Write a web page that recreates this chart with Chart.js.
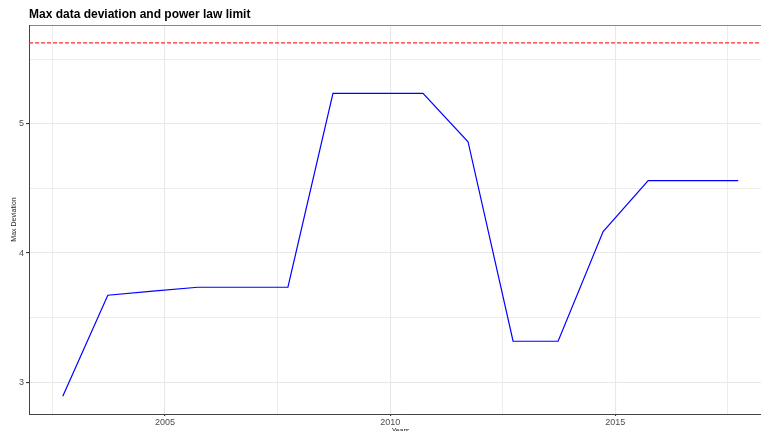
<!DOCTYPE html>
<html>
<head>
<meta charset="utf-8">
<script src="https://cdn.jsdelivr.net/npm/chart.js@4/dist/chart.umd.min.js"></script>
<style>
  html, body { margin: 0; padding: 0; background: #fff; overflow: hidden; }
  #wrap { width: 780px; height: 440px; }
</style>
</head>
<body>
<div id="wrap"><canvas id="devchart" width="780" height="440"></canvas></div>
<script>
// data
const years = [2002.73, 2003.73, 2004.73, 2005.73, 2006.73, 2007.73, 2008.73, 2009.73,
               2010.73, 2011.73, 2012.73, 2013.73, 2014.73, 2015.73, 2016.73, 2017.73];
const maxDeviation = [2.891, 3.673, 3.705, 3.735, 3.735, 3.735, 5.237, 5.237,
                      5.237, 4.862, 3.317, 3.317, 4.166, 4.561, 4.561, 4.561];
const powerLawLimit = 5.628;

const xTicks = [2002.5, 2005, 2007.5, 2010, 2012.5, 2015, 2017.5];
const yTicks = [3, 3.5, 4, 4.5, 5, 5.5];
const xMin = 2001.98, xMax = 2018.48;
const yMin = 2.7535, yMax = 5.766;

const lineData = years.map((y, i) => ({ x: y, y: maxDeviation[i] }));
const limitData = [{ x: xMin, y: powerLawLimit }, { x: xMax, y: powerLawLimit }];

const FONT = "'Liberation Sans', Arial, Helvetica, sans-serif";

function isMajor(v) { return Math.abs(v - Math.round(v)) < 1e-9 && (v < 100 || v % 5 === 0); }

const gridColor = ctx => '#E8E8E8';
const gridWidth = ctx => (ctx.tick && isMajor(ctx.tick.value)) ? 1.1 : 0.8;
const tickColor = ctx => (ctx.tick && isMajor(ctx.tick.value)) ? '#333333' : 'rgba(0,0,0,0)';

const config = {
    type: 'line',
    data: {
        datasets: [{
            label: 'Max Deviation',
            data: lineData,
            borderColor: '#0000FF',
            borderWidth: 1.2,
            pointRadius: 0,
            tension: 0,
            fill: false
        }, {
            label: 'Power law limit',
            data: limitData,
            borderColor: '#FF2A2A',
            borderWidth: 1.2,
            borderDash: [4, 2],
            pointRadius: 0,
            fill: false
        }]
    },
    options: {
        responsive: false,
        animation: false,
        layout: { padding: { left: 0, right: 8, top: 0, bottom: 0 } },
        plugins: {
            legend: { display: false },
            tooltip: { enabled: false },
            title: {
                display: true,
                text: 'Max data deviation and power law limit',
                align: 'start',
                fullSize: false,
                color: '#000',
                font: { family: FONT, size: 12, weight: 'bold', lineHeight: 1.2 },
                padding: { top: 7, bottom: 3.6 }
            }
        },
        scales: {
            x: {
                type: 'linear',
                min: xMin,
                max: xMax,
                afterBuildTicks: s => { s.ticks = xTicks.map(v => ({ value: v })); },
                afterFit: s => { s.height = 26; },
                ticks: {
                    autoSkip: false,
                    maxRotation: 0,
                    padding: 1,
                    color: '#4D4D4D',
                    font: { family: FONT, size: 9 },
                    callback: v => (v % 5 === 0 ? String(v) : '')
                },
                grid: { color: gridColor, lineWidth: gridWidth, tickColor: tickColor, tickLength: 2 },
                border: { display: true, color: '#444', width: 1 },
                title: {
                    display: true,
                    text: 'Years',
                    color: '#222',
                    font: { family: FONT, size: 7 },
                    padding: { top: 0, bottom: 4.8 }
                }
            },
            x2: {
                type: 'linear',
                position: 'top',
                min: xMin,
                max: xMax,
                afterFit: s => { s.height = 0; },
                ticks: { display: false },
                grid: { display: false },
                border: { display: true, color: '#888', width: 1 }
            },
            y: {
                type: 'linear',
                min: yMin,
                max: yMax,
                afterBuildTicks: s => { s.ticks = yTicks.map(v => ({ value: v })); },
                afterFit: s => { s.width = 29; },
                ticks: {
                    padding: 2,
                    color: '#4D4D4D',
                    font: { family: FONT, size: 9 },
                    callback: v => (Number.isInteger(v) ? String(v) : '')
                },
                grid: { color: gridColor, lineWidth: gridWidth, tickColor: tickColor, tickLength: 3 },
                border: { display: true, color: '#444', width: 1 },
                title: {
                    display: true,
                    text: 'Max Deviation',
                    color: '#222',
                    font: { family: FONT, size: 7 },
                    padding: { top: 10, bottom: 0 }
                }
            }
        }
    }
};

new Chart(document.getElementById('devchart'), config);
</script>
</body>
</html>
